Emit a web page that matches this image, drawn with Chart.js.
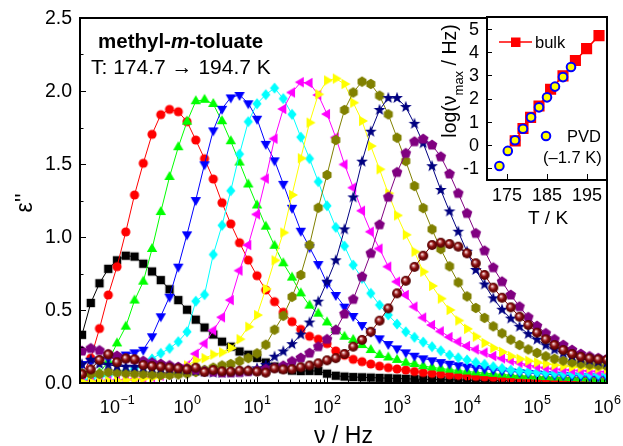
<!DOCTYPE html>
<html><head><meta charset="utf-8">
<script src="https://cdn.jsdelivr.net/npm/chart.js@4.4.0/dist/chart.umd.min.js"></script>
<style>
html,body{margin:0;padding:0;background:#fff;}
#wrap{position:relative;width:623px;height:446px;overflow:hidden;}
#main{position:absolute;left:0;top:0;}
#inset{position:absolute;left:400px;top:0;}
</style></head><body>
<div id="wrap"><canvas id="main" width="623" height="446" style="width:623px;height:446px"></canvas><canvas id="inset" width="223" height="240" style="width:223px;height:240px"></canvas></div>
<script>
// ---------- DATA ----------
const freqHz = [0.0316,0.0422,0.0562,0.0750,0.1,0.1334,0.1778,0.2371,0.3162,0.4217,0.5623,0.7499,
 1,1.334,1.778,2.371,3.162,4.217,5.623,7.499,10,13.34,17.78,23.71,31.62,42.17,56.23,74.99,
 100,133.4,177.8,237.1,316.2,421.7,562.3,749.9,1000,1334,1778,2371,3162,4217,5623,7499,
 10000,13335,17783,23714,31623,42170,56234,74989,100000,133352,177828,237137,316228,421697,562341,749894,1000000];

const eps_174_7 = [0.33,0.548,0.683,0.782,0.84,0.872,0.866,0.817,0.764,0.705,0.642,0.568,
 0.502,0.434,0.38,0.332,0.283,0.249,0.216,0.194,0.172,0.14,0.113,0.095,0.085,0.082,0.083,0.082,
 0.064,0.05,0.044,0.041,0.039,0.037,0.035,0.033,0.031,0.029,0.027,0.025,0.024,0.023,0.022,0.021,
 0.02,0.019,0.018,0.018,0.017,0.016,0.016,0.015,0.015,0.014,0.014,0.013,0.013,0.012,0.012,0.012,0.011];
const eps_176_7 = [0.05,0.17,0.373,0.603,0.797,1.035,1.288,1.505,1.703,1.838,1.874,1.858,
 1.79,1.664,1.536,1.397,1.235,1.09,0.961,0.842,0.735,0.637,0.557,0.485,0.42,0.367,0.32,0.3,
 0.27,0.22,0.19,0.162,0.146,0.13,0.116,0.105,0.096,0.089,0.079,0.072,0.066,0.061,0.056,0.052,
 0.048,0.045,0.042,0.039,0.037,0.034,0.032,0.03,0.028,0.027,0.025,0.024,0.023,0.022,0.021,0.02,0.019];
const eps_178_7 = [0.01,0.03,0.07,0.15,0.271,0.386,0.565,0.694,0.918,1.171,1.411,1.615,
 1.79,1.93,1.94,1.911,1.793,1.656,1.51,1.36,1.216,1.071,0.94,0.82,0.722,0.614,0.53,0.475,
 0.415,0.363,0.317,0.295,0.26,0.226,0.192,0.175,0.158,0.139,0.13,0.116,0.107,0.099,0.092,0.085,
 0.079,0.073,0.068,0.063,0.058,0.054,0.05,0.047,0.044,0.041,0.038,0.036,0.034,0.032,0.03,0.028,0.027];
const eps_180_7 = [0.13,0.15,0.16,0.17,0.18,0.195,0.21,0.228,0.32,0.457,0.591,0.797,
 1.018,1.253,1.498,1.73,1.878,1.956,1.973,1.916,1.81,1.638,1.525,1.364,1.2,1.043,0.93,0.815,
 0.683,0.603,0.523,0.459,0.397,0.351,0.306,0.267,0.237,0.21,0.187,0.169,0.155,0.143,0.132,0.122,
 0.113,0.105,0.098,0.091,0.085,0.079,0.074,0.069,0.065,0.061,0.057,0.054,0.051,0.048,0.046,0.044,0.042];
const eps_182_7 = [0.02,0.03,0.04,0.05,0.065,0.08,0.1,0.13,0.165,0.203,0.237,0.283,
 0.351,0.56,0.605,0.88,1.08,1.317,1.568,1.79,1.913,1.975,2.02,1.948,1.84,1.684,1.537,1.379,
 1.214,1.066,0.938,0.808,0.717,0.614,0.534,0.466,0.404,0.351,0.313,0.28,0.249,0.221,0.192,0.173,
 0.158,0.141,0.128,0.112,0.1,0.089,0.082,0.077,0.073,0.07,0.067,0.065,0.063,0.061,0.06,0.059,0.058];
const eps_184_7 = [0.01,0.012,0.014,0.016,0.018,0.02,0.025,0.03,0.04,0.05,0.065,0.09,
 0.12,0.2,0.27,0.36,0.45,0.568,0.77,0.945,1.155,1.4,1.673,1.877,1.99,2.06,2.055,1.973,
 1.842,1.682,1.497,1.338,1.18,1.036,0.92,0.797,0.694,0.603,0.523,0.448,0.397,0.354,0.315,0.283,
 0.253,0.23,0.208,0.185,0.169,0.153,0.139,0.123,0.112,0.104,0.097,0.092,0.088,0.085,0.082,0.079,0.077];
const eps_186_7 = [0.008,0.01,0.012,0.014,0.016,0.02,0.025,0.03,0.035,0.045,0.06,0.09,
 0.12,0.155,0.17,0.195,0.21,0.24,0.3,0.385,0.465,0.645,0.84,1.03,1.288,1.539,1.783,1.977,
 2.072,2.085,2.048,1.92,1.795,1.623,1.464,1.299,1.148,1.015,0.899,0.762,0.665,0.578,0.5,0.428,
 0.371,0.318,0.274,0.24,0.213,0.184,0.165,0.152,0.141,0.131,0.123,0.116,0.11,0.106,0.103,0.1,0.098];
const eps_188_7 = [0.066,0.062,0.062,0.075,0.071,0.066,0.064,0.062,0.058,0.055,0.055,0.058,
 0.065,0.075,0.09,0.105,0.12,0.13,0.15,0.17,0.203,0.262,0.365,0.46,0.59,0.74,0.945,1.2,
 1.425,1.664,1.87,1.99,2.064,2.048,1.968,1.84,1.68,1.52,1.349,1.198,1.053,0.917,0.799,0.689,
 0.593,0.514,0.446,0.388,0.34,0.297,0.26,0.23,0.206,0.183,0.166,0.153,0.141,0.132,0.125,0.12,0.116];
const eps_190_7 = [0.127,0.16,0.13,0.125,0.115,0.112,0.11,0.108,0.105,0.1,0.098,0.095,
 0.09,0.082,0.075,0.07,0.07,0.072,0.075,0.085,0.1,0.123,0.18,0.216,0.266,0.332,0.414,0.557,
 0.694,0.84,1.052,1.271,1.516,1.721,1.87,1.952,1.952,1.89,1.775,1.642,1.485,1.322,1.175,1.036,
 0.899,0.774,0.675,0.58,0.502,0.441,0.385,0.335,0.297,0.258,0.228,0.205,0.185,0.167,0.155,0.145,0.138];
const eps_192_7 = [0.219,0.237,0.223,0.196,0.185,0.168,0.16,0.15,0.14,0.13,0.12,0.11,
 0.1,0.09,0.08,0.075,0.07,0.07,0.072,0.078,0.085,0.095,0.105,0.118,0.148,0.172,0.205,0.249,
 0.299,0.363,0.473,0.573,0.728,0.888,1.084,1.273,1.443,1.573,1.653,1.671,1.63,1.55,1.432,1.299,
 1.162,1.025,0.906,0.79,0.694,0.603,0.523,0.45,0.39,0.34,0.299,0.26,0.226,0.199,0.182,0.17,0.165];
const eps_194_7 = [0.06,0.093,0.158,0.196,0.142,0.168,0.162,0.123,0.116,0.112,0.105,0.1,
 0.093,0.105,0.075,0.089,0.08,0.078,0.084,0.084,0.078,0.071,0.1,0.093,0.095,0.108,0.12,0.135,
 0.155,0.17,0.199,0.249,0.295,0.351,0.427,0.511,0.614,0.7,0.795,0.872,0.945,0.961,0.952,0.934,
 0.888,0.82,0.74,0.653,0.584,0.518,0.454,0.397,0.345,0.299,0.26,0.226,0.199,0.18,0.169,0.162,0.158];

const seriesNames = ['174.7 K','176.7 K','178.7 K','180.7 K','182.7 K','184.7 K','186.7 K','188.7 K','190.7 K','192.7 K','194.7 K'];
const seriesValues = [eps_174_7,eps_176_7,eps_178_7,eps_180_7,eps_182_7,eps_184_7,eps_186_7,eps_188_7,eps_190_7,eps_192_7,eps_194_7];
const seriesColors = ['#000000','#ff0000','#00ff00','#0000ff','#00ffff','#ff00ff','#ffff00','#808000','#000080','#800080','#800000'];
const seriesShapes = ['square','circle','up','down','diamond','left','right','hex','star','pent','sphere'];

const xTickExps = [-1,0,1,2,3,4,5,6];
const yTickValues = [0,0.5,1,1.5,2,2.5];
const yTickLabels = ['0.0','0.5','1.0','1.5','2.0','2.5'];

// inset data
const bulkT = [177.05,179.0,180.9,183.0,185.9,189.0,192.1,194.9,198.0];
const bulkLogNu = [0.18,0.71,1.19,1.68,2.40,2.97,3.63,4.14,4.70];
const pvdT = [173.1,175.2,177.0,179.0,181.0,183.0,185.0,187.0,189.0,191.0];
const pvdLogNu = [-0.90,-0.25,0.21,0.70,1.19,1.62,2.05,2.51,2.92,3.35];
const insetXTicks = [175,185,195];
const insetYTicks = [-1,0,1,2,3,4,5];

// ---------- STYLE ----------
const FONT = '"Liberation Sans", Arial, Helvetica, sans-serif';

function marker(shape, color) {
  const size = 14, c = document.createElement('canvas');
  c.width = size; c.height = size;
  const g = c.getContext('2d');
  const cx = size / 2, cy = size / 2;
  const reg = (n, R, rot) => { const p = []; for (let i = 0; i < n; i++) { const a = rot + i * 2 * Math.PI / n; p.push([R * Math.cos(a), R * Math.sin(a)]); } return p; };
  const poly = (pts) => { g.moveTo(cx + pts[0][0], cy + pts[0][1]); for (let i = 1; i < pts.length; i++) g.lineTo(cx + pts[i][0], cy + pts[i][1]); g.closePath(); };
  g.fillStyle = color;
  g.beginPath();
  switch (shape) {
    case 'square': g.rect(cx - 4.2, cy - 4.2, 8.4, 8.4); break;
    case 'circle': g.arc(cx, cy, 4.6, 0, Math.PI * 2); break;
    case 'up': poly(reg(3, 6, -Math.PI / 2)); break;
    case 'down': poly(reg(3, 6, Math.PI / 2)); break;
    case 'left': poly(reg(3, 6, Math.PI)); break;
    case 'right': poly(reg(3, 6, 0)); break;
    case 'diamond': poly([[0, -5.6], [4.6, 0], [0, 5.6], [-4.6, 0]]); break;
    case 'hex': poly(reg(6, 5.2, -Math.PI / 2)); break;
    case 'pent': poly(reg(5, 5.6, -Math.PI / 2)); break;
    case 'star': { const p = []; for (let i = 0; i < 10; i++) { const R = i % 2 ? 2.6 : 6.2; const a = -Math.PI / 2 + i * Math.PI / 5; p.push([R * Math.cos(a), R * Math.sin(a)]); } poly(p); break; }
    case 'sphere': {
      const grd = g.createRadialGradient(cx - 1.2, cy - 1.6, 0.2, cx, cy, 5);
      grd.addColorStop(0, '#ffffff'); grd.addColorStop(0.22, '#d08080'); grd.addColorStop(0.5, '#8a0e0e'); grd.addColorStop(1, '#4a0000');
      g.fillStyle = grd; g.arc(cx, cy, 5, 0, Math.PI * 2); break;
    }
  }
  g.fill();
  return c;
}

// ---------- MAIN CHART ----------
const mainDecor = {
  id: 'mainDecor',
  afterDraw(chart) {
    const { ctx, chartArea: a, scales: { x, y } } = chart;
    ctx.save();
    ctx.strokeStyle = '#000';
    ctx.lineWidth = 1;
    for (let v = 0; v <= 2.5001; v += 0.25) {
      const py = Math.round(y.getPixelForValue(v)) + 0.5;
      const major = Math.abs(v * 2 - Math.round(v * 2)) < 1e-6;
      ctx.beginPath(); ctx.moveTo(a.left, py); ctx.lineTo(a.left + (major ? 6 : 3.5), py); ctx.stroke();
    }
    for (let e = -2; e <= 6; e++) {
      for (let m = 1; m <= 9; m++) {
        const v = m * Math.pow(10, e);
        if (v < x.min || v > x.max * 1.0001) continue;
        const px = Math.round(x.getPixelForValue(v)) + 0.5;
        ctx.beginPath(); ctx.moveTo(px, a.bottom); ctx.lineTo(px, a.bottom - (m === 1 ? 6 : 3.5)); ctx.stroke();
      }
    }
    ctx.lineWidth = 2;
    ctx.strokeRect(a.left, a.top, a.right - a.left, a.bottom - a.top);
    ctx.fillStyle = '#000';
    ctx.font = '19.5px ' + FONT;
    ctx.textAlign = 'right'; ctx.textBaseline = 'middle';
    yTickValues.forEach((v, i) => ctx.fillText(yTickLabels[i], a.left - 8, y.getPixelForValue(v) + 1));
    ctx.textBaseline = 'alphabetic'; ctx.textAlign = 'left';
    xTickExps.forEach(e => {
      const px = x.getPixelForValue(Math.pow(10, e));
      const sup = e < 0 ? '\u2212' + Math.abs(e) : String(e);
      ctx.font = '18px ' + FONT; const w1 = ctx.measureText('10').width;
      ctx.font = '12.5px ' + FONT; const w2 = ctx.measureText(sup).width;
      const x0 = px - (w1 + w2) / 2;
      ctx.font = '18px ' + FONT; ctx.fillText('10', x0, 413);
      ctx.font = '12.5px ' + FONT; ctx.fillText(sup, x0 + w1 + 0.5, 404);
    });
    ctx.font = '23px ' + FONT; ctx.textAlign = 'center';
    ctx.fillText('\u03BD / Hz', (a.left + a.right) / 2, 443);
    ctx.save(); ctx.translate(32, 203); ctx.rotate(-Math.PI / 2);
    ctx.fillText('\u03B5\'\'', 0, 0); ctx.restore();
    ctx.textAlign = 'left';
    let tx = 98;
    ctx.font = 'bold 20.5px ' + FONT; ctx.fillText('methyl-', tx, 48); tx += ctx.measureText('methyl-').width;
    ctx.font = 'italic bold 20.5px ' + FONT; ctx.fillText('m', tx, 48); tx += ctx.measureText('m').width;
    ctx.font = 'bold 20.5px ' + FONT; ctx.fillText('-toluate', tx, 48);
    ctx.font = '21px ' + FONT; ctx.fillText('T: 174.7 \u2192 194.7 K', 91, 74);
    ctx.restore();
  }
};

const datasets = seriesValues.map((vals, i) => ({
  label: seriesNames[i],
  data: freqHz.map((f, j) => ({ x: f, y: vals[j] })),
  borderColor: seriesColors[i],
  backgroundColor: seriesColors[i],
  borderWidth: 1,
  pointStyle: marker(seriesShapes[i], seriesColors[i]),
  pointRadius: 5, pointHoverRadius: 5,
  tension: 0, clip: 0,
  order: seriesValues.length - i
}));

new Chart(document.getElementById('main'), {
  type: 'line',
  data: { datasets },
  options: {
    responsive: false, animation: false, devicePixelRatio: 1,
    events: [],
    layout: { padding: { left: 10, top: 18, right: 16, bottom: 0 } },
    plugins: { legend: { display: false }, tooltip: { enabled: false } },
    scales: {
      x: { type: 'logarithmic', min: 0.0296, max: 1e6, grid: { display: false }, border: { display: false }, ticks: { display: false }, afterFit(s) { s.height = 63; } },
      y: { type: 'linear', min: 0, max: 2.5, grid: { display: false }, border: { display: false }, ticks: { display: false }, afterFit(s) { s.width = 70; } }
    }
  },
  plugins: [mainDecor]
});

// ---------- INSET ----------
const insetDecor = {
  id: 'insetDecor',
  beforeDatasetsDraw(chart) {
    const { ctx, chartArea: a } = chart;
    ctx.save(); ctx.fillStyle = '#fff'; ctx.fillRect(a.left, a.top, a.right - a.left, a.bottom - a.top); ctx.restore();
  },
  afterDraw(chart) {
    const { ctx, chartArea: a, scales: { x, y } } = chart;
    ctx.save();
    ctx.strokeStyle = '#000'; ctx.lineWidth = 1;
    insetYTicks.forEach(v => { const py = Math.round(y.getPixelForValue(v)) + 0.5; ctx.beginPath(); ctx.moveTo(a.left, py); ctx.lineTo(a.left + 5, py); ctx.stroke(); });
    insetXTicks.forEach(v => { const px = Math.round(x.getPixelForValue(v)) + 0.5; ctx.beginPath(); ctx.moveTo(px, a.bottom); ctx.lineTo(px, a.bottom - 6); ctx.stroke(); });
    ctx.lineWidth = 2;
    ctx.strokeRect(a.left, a.top, a.right - a.left, a.bottom - a.top);
    ctx.fillStyle = '#000';
    ctx.font = '18px ' + FONT;
    ctx.textAlign = 'right'; ctx.textBaseline = 'middle';
    insetYTicks.forEach(v => ctx.fillText(String(v), a.left - 8, y.getPixelForValue(v) + 1));
    ctx.textAlign = 'center';
    insetXTicks.forEach(v => ctx.fillText(String(v), x.getPixelForValue(v), 196));
    ctx.font = '19px ' + FONT;
    ctx.fillText('T / K', 148, 219);
    // y title with subscript
    ctx.save(); ctx.translate(56, 81); ctx.rotate(-Math.PI / 2);
    ctx.textBaseline = 'alphabetic'; ctx.textAlign = 'left';
    const p1 = 'log(\u03BD', p2 = 'max', p3 = ' / Hz)';
    ctx.font = '19.5px ' + FONT; const w1 = ctx.measureText(p1).width, w3 = ctx.measureText(p3).width;
    ctx.font = '13px ' + FONT; const w2 = ctx.measureText(p2).width;
    let sx = -(w1 + w2 + w3) / 2;
    ctx.font = '19.5px ' + FONT; ctx.fillText(p1, sx, 0); sx += w1;
    ctx.font = '13px ' + FONT; ctx.fillText(p2, sx, 7); sx += w2;
    ctx.font = '19.5px ' + FONT; ctx.fillText(p3, sx, 0);
    ctx.restore();
    // legend
    ctx.strokeStyle = '#ff0000'; ctx.lineWidth = 1.5;
    ctx.beginPath(); ctx.moveTo(99, 42); ctx.lineTo(132, 42); ctx.stroke();
    ctx.fillStyle = '#ff0000'; ctx.fillRect(111, 37.5, 9.5, 9.5);
    ctx.fillStyle = '#000'; ctx.textAlign = 'left'; ctx.textBaseline = 'middle';
    ctx.font = '16.5px ' + FONT;
    ctx.fillText('bulk', 135, 43);
    ctx.beginPath(); ctx.arc(146, 136, 4.3, 0, Math.PI * 2); ctx.fillStyle = '#ffff00'; ctx.fill();
    ctx.strokeStyle = '#0000ff'; ctx.lineWidth = 2; ctx.stroke();
    ctx.fillStyle = '#000';
    ctx.fillText('PVD', 167, 137);
    ctx.fillText('(\u20131.7 K)', 143, 158);
    ctx.restore();
  }
};

new Chart(document.getElementById('inset'), {
  type: 'line',
  data: {
    datasets: [
      { label: 'bulk', data: bulkT.map((t, i) => ({ x: t, y: bulkLogNu[i] })), borderColor: '#ff0000', backgroundColor: '#ff0000', borderWidth: 1.5, pointStyle: 'rect', pointRadius: 6.8, pointHoverRadius: 6.8, tension: 0, order: 2 },
      { label: 'PVD', data: pvdT.map((t, i) => ({ x: t, y: pvdLogNu[i] })), showLine: false, borderColor: '#0000ff', backgroundColor: '#ffff00', borderWidth: 2, pointStyle: 'circle', pointRadius: 4.3, pointHoverRadius: 4.3, order: 1 }
    ]
  },
  options: {
    responsive: false, animation: false, devicePixelRatio: 1,
    events: [],
    layout: { padding: { left: 0, top: 17, right: 16, bottom: 0 } },
    plugins: { legend: { display: false }, tooltip: { enabled: false } },
    scales: {
      x: { type: 'linear', min: 170, max: 200, grid: { display: false }, border: { display: false }, ticks: { display: false }, afterFit(s) { s.height = 60; } },
      y: { type: 'linear', min: -1.5, max: 5.5, grid: { display: false }, border: { display: false }, ticks: { display: false }, afterFit(s) { s.width = 87; } }
    }
  },
  plugins: [insetDecor]
});
</script>
</body></html>
